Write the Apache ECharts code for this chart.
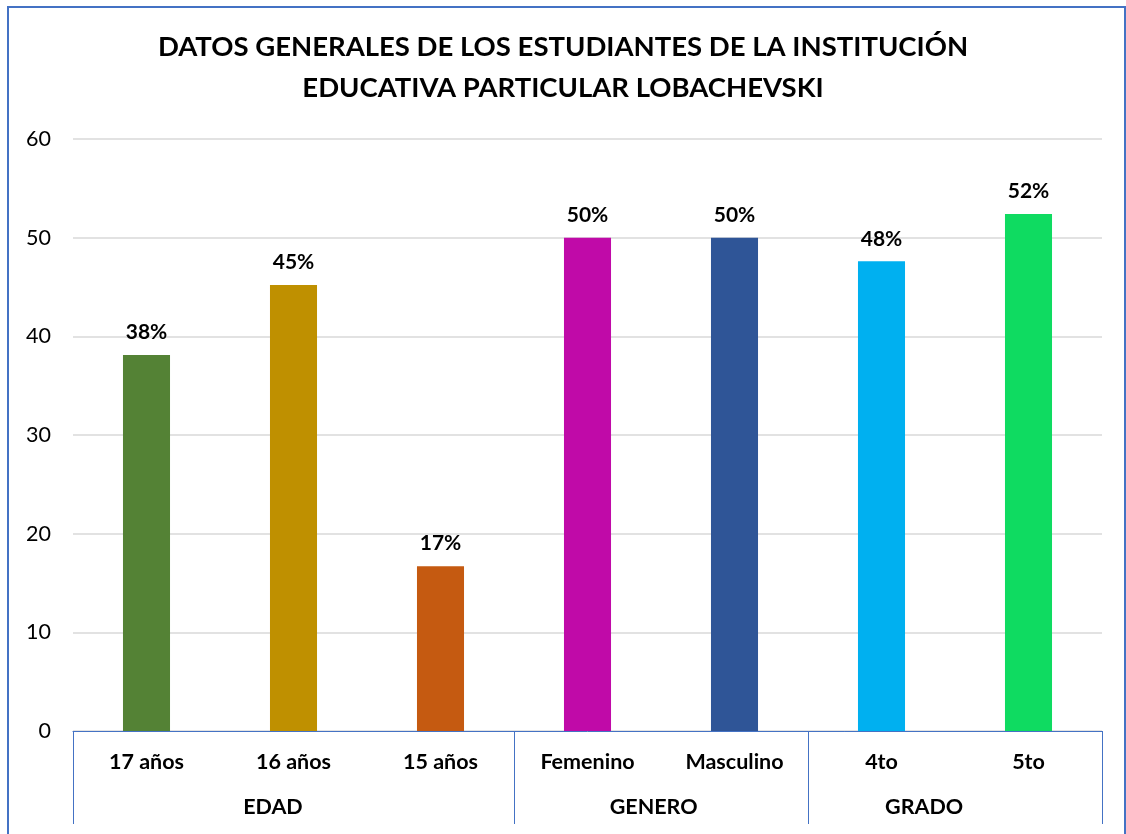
<!DOCTYPE html>
<html>
<head>
<meta charset="utf-8">
<script src="https://cdn.jsdelivr.net/npm/echarts@6/dist/echarts.min.js"></script>
<style>
html,body{margin:0;padding:0;background:#fff;}
#chart{width:1126px;height:834px;position:absolute;left:0;top:0;}
#frame{position:absolute;left:7px;top:6px;width:1115px;height:900px;border:2px solid #4472C4;pointer-events:none;}
</style>
</head>
<body>
<div id="chart"></div>
<div id="frame"></div>
<script>
const categories = ['17 años','16 años','15 años','Femenino','Masculino','4to','5to'];
const values = [38.1, 45.2, 16.7, 50.0, 50.0, 47.6, 52.4];
const valueLabels = ['38%','45%','17%','50%','50%','48%','52%'];
const groups = ['EDAD','GENERO','GRADO'];
const groupSizes = [3, 2, 2];
const colors = ['#548235','#BF9000','#C55A11','#C00AA8','#2F5597','#00B0F0','#0FDB61'];
const yTicks = [0,10,20,30,40,50,60];

// group boundaries in category units
const bounds = [0];
groupSizes.forEach(s => bounds.push(bounds[bounds.length-1] + s));
// layout: horizontal placement of group labels (as drawn in the reference, slightly left of centre)
const groupLabelShift = [-0.14, -0.05, -0.21];
const labelPos = groups.map((g,i) => (bounds[i] + bounds[i+1]) / 2 + groupLabelShift[i]);

const chart = echarts.init(document.getElementById('chart'));
const FONT = 'Lato, "Open Sans", sans-serif';
chart.setOption({
  animation: false,
  title: {
    text: 'DATOS GENERALES DE LOS ESTUDIANTES DE LA INSTITUCIÓN\nEDUCATIVA PARTICULAR LOBACHEVSKI',
    left: 'center', top: 22,
    textStyle: {fontFamily: FONT, fontWeight: 'bold', fontSize: 27.5, lineHeight: 41, color: '#000'}
  },
  grid: {left: 73, right: 24, top: 139, bottom: 103, containLabel: false},
  xAxis: [{
    type: 'category',
    data: categories,
    axisLine: {lineStyle: {color: '#4472C4', width: 1}},
    axisTick: {show: false},
    axisLabel: {fontFamily: FONT, fontWeight: 'bold', fontSize: 21.5, color: '#000', margin: 20, interval: 0}
  },{
    type: 'value',
    position: 'bottom',
    min: 0, max: categories.length,
    axisLine: {show: false},
    splitLine: {show: false},
    axisTick: {show: true, customValues: bounds, length: 93, lineStyle: {color: '#4472C4', width: 1}},
    axisLabel: {
      customValues: labelPos,
      formatter: v => { const i = labelPos.indexOf(v); return i >= 0 ? groups[i] : ''; },
      fontFamily: FONT, fontWeight: 'bold', fontSize: 21.5, color: '#000', margin: 65
    }
  }],
  yAxis: {
    type: 'value', min: yTicks[0], max: yTicks[yTicks.length-1], interval: 10,
    axisLine: {show: false}, axisTick: {show: false},
    axisLabel: {fontFamily: FONT, fontSize: 21.5, color: '#000', margin: 22},
    splitLine: {lineStyle: {color: '#D9D9D9', width: 1.5}}
  },
  series: [{
    type: 'bar',
    xAxisIndex: 0,
    barWidth: '32%',
    data: values.map((v,i) => ({value: v, itemStyle: {color: colors[i]}})),
    label: {
      show: true, position: 'top', distance: 12,
      formatter: p => valueLabels[p.dataIndex],
      fontFamily: FONT, fontWeight: 'bold', fontSize: 21, color: '#000'
    }
  }]
});
</script>
</body>
</html>
